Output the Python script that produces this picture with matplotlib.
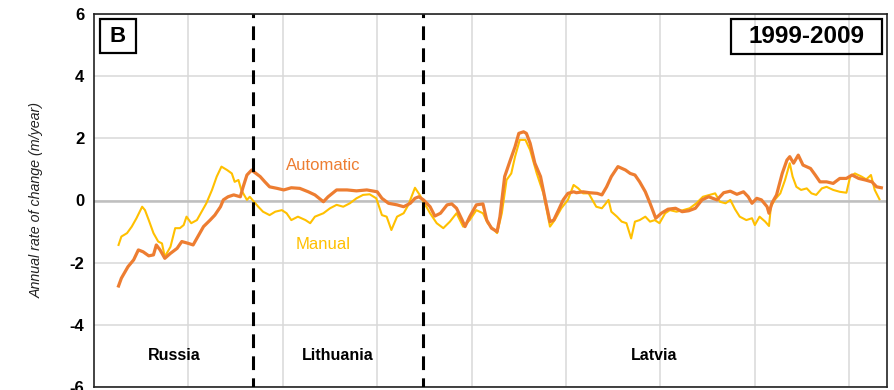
import matplotlib
matplotlib.use("Agg")
import matplotlib.pyplot as plt
from matplotlib.patches import Rectangle

plt.rcParams['font.family'] = ['Liberation Sans', 'DejaVu Sans']

# Automatic series (distance, rate m/year)
auto_x = [26, 29, 36, 42, 47, 52, 58, 63, 66, 70, 75, 81, 88, 93, 100, 105, 111, 116, 123, 128,
          134, 137, 142, 148, 155, 158, 162, 167, 169, 176, 181, 186, 194, 201, 209, 218, 227, 234,
          243, 248, 257, 268, 278, 289, 300, 305, 312, 321, 328, 335, 340, 344, 349, 356, 361, 367,
          374, 379, 384, 390, 393, 398, 405, 412, 416, 421, 427, 430, 435, 441, 446, 450, 455, 458,
          462, 467, 473, 478, 483, 487, 492, 497, 502, 508, 511, 518, 525, 533, 538, 543, 548, 555,
          563, 568, 573, 578, 584, 589, 595, 601, 608, 616, 623, 630, 637, 644, 651, 660, 667, 674,
          681, 688, 693, 697, 702, 707, 713, 715, 718, 723, 729, 734, 737, 741, 746, 751, 759, 764,
          769, 776, 783, 790, 797, 803, 810, 817, 824, 829, 834]
auto_y = [-2.75, -2.50, -2.13, -1.91, -1.59, -1.65, -1.78, -1.75, -1.43, -1.59, -1.86, -1.70, -1.54,
          -1.32, -1.38, -1.43, -1.11, -0.84, -0.63, -0.47, -0.20, 0.02, 0.12, 0.18, 0.12, 0.44, 0.82,
          0.98, 0.93, 0.77, 0.60, 0.44, 0.39, 0.34, 0.41, 0.39, 0.28, 0.18, -0.04, 0.12, 0.34, 0.34,
          0.31, 0.34, 0.28, 0.07, -0.09, -0.14, -0.20, -0.09, 0.07, 0.12, 0.02, -0.20, -0.50, -0.41,
          -0.14, -0.11, -0.25, -0.63, -0.84, -0.52, -0.14, -0.11, -0.63, -0.89, -1.00, -0.52, 0.77,
          1.30, 1.73, 2.16, 2.21, 2.16, 1.84, 1.20, 0.77, 0.02, -0.68, -0.63, -0.31, 0.02, 0.23, 0.28,
          0.25, 0.28, 0.25, 0.23, 0.18, 0.44, 0.77, 1.09, 0.98, 0.87, 0.82, 0.60, 0.28, -0.09, -0.57,
          -0.41, -0.28, -0.25, -0.36, -0.33, -0.25, 0.02, 0.12, 0.02, 0.25, 0.30, 0.20, 0.28, 0.12,
          -0.09, 0.07, 0.02, -0.20, -0.41, -0.09, 0.18, 0.87, 1.30, 1.41, 1.20, 1.46, 1.14, 1.03, 0.82,
          0.60, 0.60, 0.55, 0.71, 0.71, 0.82, 0.71, 0.66, 0.60, 0.44, 0.41]

# Manual series
man_x = [26, 29, 35, 40, 45, 51, 54, 58, 63, 68, 72, 75, 81, 86, 91, 95, 98, 103, 109, 114, 119,
         125, 130, 135, 141, 146, 149, 153, 156, 162, 165, 170, 174, 179, 186, 192, 199, 204, 209,
         216, 224, 229, 234, 243, 250, 257, 264, 271, 278, 285, 292, 299, 305, 310, 315, 321, 328,
         333, 340, 345, 349, 356, 363, 370, 377, 384, 391, 398, 405, 412, 417, 427, 432, 437, 442,
         446, 451, 457, 462, 469, 476, 483, 488, 495, 502, 508, 513, 518, 524, 527, 532, 538, 541,
         545, 548, 554, 559, 564, 569, 573, 578, 584, 589, 594, 599, 605, 610, 617, 624, 631, 638,
         645, 652, 658, 663, 669, 674, 679, 684, 691, 697, 700, 705, 711, 715, 717, 721, 727, 732,
         737, 740, 744, 749, 755, 760, 765, 771, 776, 783, 790, 797, 801, 806, 813, 818, 823, 827, 832]
man_y = [-1.43, -1.16, -1.05, -0.84, -0.57, -0.20, -0.31, -0.63, -1.05, -1.32, -1.38, -1.81, -1.49,
         -0.89, -0.89, -0.79, -0.52, -0.73, -0.63, -0.36, -0.09, 0.34, 0.77, 1.09, 0.98, 0.87, 0.60,
         0.66, 0.34, 0.02, 0.12, -0.06, -0.20, -0.36, -0.47, -0.36, -0.31, -0.41, -0.63, -0.52, -0.63,
         -0.73, -0.52, -0.41, -0.25, -0.14, -0.20, -0.09, 0.07, 0.18, 0.20, 0.07, -0.47, -0.52, -0.95,
         -0.52, -0.41, -0.14, 0.41, 0.18, -0.04, -0.41, -0.73, -0.89, -0.68, -0.41, -0.84, -0.63,
         -0.31, -0.41, -0.73, -1.05, -0.41, 0.66, 0.87, 1.41, 1.95, 1.95, 1.62, 0.87, 0.23, -0.84,
         -0.63, -0.25, 0.02, 0.50, 0.39, 0.23, 0.23, 0.07, -0.20, -0.25, -0.14, 0.02, -0.36, -0.52,
         -0.68, -0.73, -1.22, -0.68, -0.63, -0.52, -0.68, -0.63, -0.73, -0.41, -0.31, -0.36, -0.31,
         -0.25, -0.09, 0.12, 0.18, 0.23, -0.04, -0.09, 0.02, -0.28, -0.52, -0.63, -0.57, -0.79, -0.52,
         -0.68, -0.82, -0.20, 0.02, 0.23, 0.66, 1.20, 0.77, 0.44, 0.34, 0.39, 0.23, 0.18, 0.39, 0.44,
         0.34, 0.28, 0.25, 0.77, 0.87, 0.77, 0.68, 0.82, 0.34, 0.04]

borders = [168.4, 348.5]
countries = ["Russia", "Lithuania", "Latvia"]
country_x = [85, 258, 593]
y_ticks = [-6, -4, -2, 0, 2, 4, 6]
x_grid = [100, 200, 300, 400, 500, 600, 700, 800]

ORANGE = '#ED7D31'
YELLOW = '#FFC000'

fig = plt.figure(figsize=(8.95, 3.9), dpi=100)
ax = fig.add_axes([94/895, 3/390, 793/895, 373/390])
ax.set_xlim(0, 840)
ax.set_ylim(-6, 6)
ax.set_yticks(y_ticks)
ax.set_yticklabels([str(v) for v in y_ticks], fontsize=12, fontweight='bold')
ax.set_xticks(x_grid)
ax.set_xticklabels([])
ax.tick_params(axis='both', length=0, pad=7)
ax.grid(True, color='#d9d9d9', lw=1.1, zorder=0)
ax.set_axisbelow(True)
ax.axhline(0, color='#bfbfbf', lw=1.8, zorder=1)

for s in ax.spines.values():
    s.set_color('#222222')
    s.set_linewidth(1.2)

ax.plot(man_x, man_y, color=YELLOW, lw=1.5, zorder=3)
ax.plot(auto_x, auto_y, color=ORANGE, lw=2.3, zorder=4)

for b in borders:
    ax.axvline(b, color='black', lw=2.2, linestyle=(1.5, (4.5, 2.7)), zorder=5)

for name, cx in zip(countries, country_x):
    ax.text(cx, -5.0, name, ha='center', va='center', fontsize=11.5, fontweight='bold')

ax.text(203, 1.14, "Automatic", color=ORANGE, fontsize=12, ha='left', va='center')
ax.text(214, -1.43, "Manual", color=YELLOW, fontsize=12, ha='left', va='center')

ax.set_ylabel("Annual rate of change (m/year)", fontsize=10.3, style='italic', color='#222222')
ax.yaxis.set_label_coords(-0.064, 0.5)

# Boxed labels
ax.add_patch(Rectangle((0.0076, 0.895), 0.0454, 0.092, transform=ax.transAxes,
                       fill=False, ec='black', lw=1.6, zorder=6))
ax.text(0.0303, 0.941, "B", transform=ax.transAxes, ha='center', va='center',
        fontsize=16, fontweight='bold', zorder=7)
ax.add_patch(Rectangle((0.803, 0.892), 0.191, 0.095, transform=ax.transAxes,
                       fill=False, ec='black', lw=1.6, zorder=6))
ax.text(0.8985, 0.940, "1999-2009", transform=ax.transAxes, ha='center', va='center',
        fontsize=17.5, fontweight='bold', zorder=7)

fig.savefig("out.png", dpi=100)
